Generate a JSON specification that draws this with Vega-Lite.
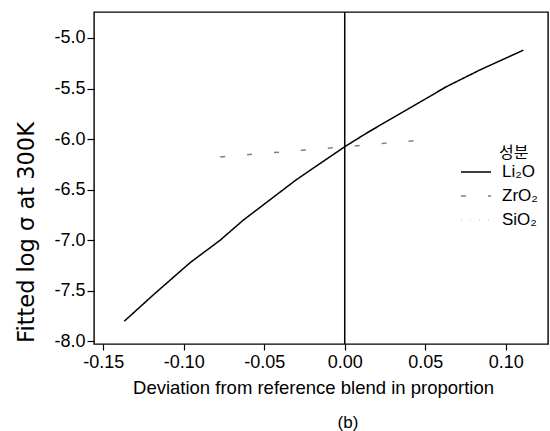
{
  "$schema": "https://vega.github.io/schema/vega-lite/v6.json",
  "width": 454,
  "height": 332,
  "autosize": {"type": "none"},
  "padding": {"left": 94, "top": 12, "right": 2, "bottom": 87},
  "background": "white",
  "config": {
    "font": "Liberation Sans",
    "view": {"stroke": "#000", "strokeWidth": 1.4},
    "axis": {"grid": false, "domain": false, "tickColor": "#000", "labelColor": "#000", "titleColor": "#000", "titleFontWeight": "normal"}
  },
  "title": {"text": "(b)", "orient": "bottom", "anchor": "middle", "dx": 27, "offset": 18, "fontSize": 17, "fontWeight": "normal", "color": "#000", "font": "Liberation Sans"},
  "datasets": {
    "curves": [
      {"dev": -0.137, "fit": -7.80, "component": "Li₂O"},
      {"dev": -0.119, "fit": -7.54, "component": "Li₂O"},
      {"dev": -0.096, "fit": -7.22, "component": "Li₂O"},
      {"dev": -0.0775, "fit": -7.00, "component": "Li₂O"},
      {"dev": -0.063, "fit": -6.80, "component": "Li₂O"},
      {"dev": -0.030, "fit": -6.40, "component": "Li₂O"},
      {"dev": 0.0, "fit": -6.075, "component": "Li₂O"},
      {"dev": 0.0136, "fit": -5.94, "component": "Li₂O"},
      {"dev": 0.0385, "fit": -5.71, "component": "Li₂O"},
      {"dev": 0.0633, "fit": -5.48, "component": "Li₂O"},
      {"dev": 0.084, "fit": -5.316, "component": "Li₂O"},
      {"dev": 0.111, "fit": -5.12, "component": "Li₂O"},
      {"dev": -0.0774, "fit": -6.176, "component": "ZrO₂"},
      {"dev": 0.0, "fit": -6.075, "component": "ZrO₂"},
      {"dev": 0.056, "fit": -5.998, "component": "ZrO₂"}
    ],
    "reference": [{"dev": 0}]
  },
  "layer": [
    {
      "data": {"name": "reference"},
      "mark": {"type": "rule", "color": "#000", "strokeWidth": 1.5},
      "encoding": {"x": {"field": "dev", "type": "quantitative"}}
    },
    {
      "data": {"name": "curves"},
      "mark": {"type": "line", "strokeWidth": 1.5},
      "encoding": {
        "x": {
          "field": "dev", "type": "quantitative",
          "scale": {"domain": [-0.1558, 0.1263], "nice": false, "zero": false},
          "axis": {
            "title": "Deviation from reference blend in proportion",
            "titleFontSize": 18.5, "titlePadding": 7, "titleX": 219,
            "values": [-0.15, -0.1, -0.05, 0, 0.05, 0.1],
            "labelExpr": "replace(format(datum.value, '.2f'), '−', '-')",
            "labelFontSize": 18, "labelPadding": 3, "tickSize": 6, "tickWidth": 1.2
          }
        },
        "y": {
          "field": "fit", "type": "quantitative",
          "scale": {"domain": [-8.025, -4.743], "nice": false, "zero": false},
          "axis": {
            "title": "Fitted log σ at 300K",
            "titleFontSize": 22.5, "titleFont": "DejaVu Sans", "titlePadding": 15, "titleY": 220,
            "values": [-8, -7.5, -7, -6.5, -6, -5.5, -5],
            "labelExpr": "replace(format(datum.value, '.1f'), '−', '-')",
            "labelFontSize": 18, "labelPadding": 2, "tickSize": 7, "tickWidth": 1.2
          }
        },
        "color": {
          "field": "component", "type": "nominal",
          "scale": {"domain": ["Li₂O", "ZrO₂", "SiO₂"], "range": ["#000000", "#808080", "#d8d8d8"]},
          "legend": {
            "title": "성분", "orient": "none", "legendX": 366, "legendY": 133,
            "titleFont": "Noto Sans CJK KR", "titleFontSize": 16, "titleFontWeight": "normal", "titleColor": "#000",
            "titleAnchor": "middle", "titleAlign": "left", "titlePadding": -5,
            "labelFontSize": 17, "labelColor": "#000", "labelOffset": 10,
            "symbolType": "stroke", "symbolSize": 900, "symbolStrokeWidth": 1.5,
            "rowPadding": -7
          }
        },
        "strokeDash": {
          "field": "component", "type": "nominal",
          "scale": {"domain": ["Li₂O", "ZrO₂", "SiO₂"], "range": [[1, 0], [5, 22], [1, 8]]},
          "legend": {
            "title": "성분", "orient": "none", "legendX": 366, "legendY": 133,
            "titleFont": "Noto Sans CJK KR", "titleFontSize": 16, "titleFontWeight": "normal", "titleColor": "#000",
            "titleAnchor": "middle", "titleAlign": "left", "titlePadding": -5,
            "labelFontSize": 17, "labelColor": "#000", "labelOffset": 10,
            "symbolType": "stroke", "symbolSize": 900, "symbolStrokeWidth": 1.5,
            "rowPadding": -7
          }
        }
      }
    }
  ]
}
